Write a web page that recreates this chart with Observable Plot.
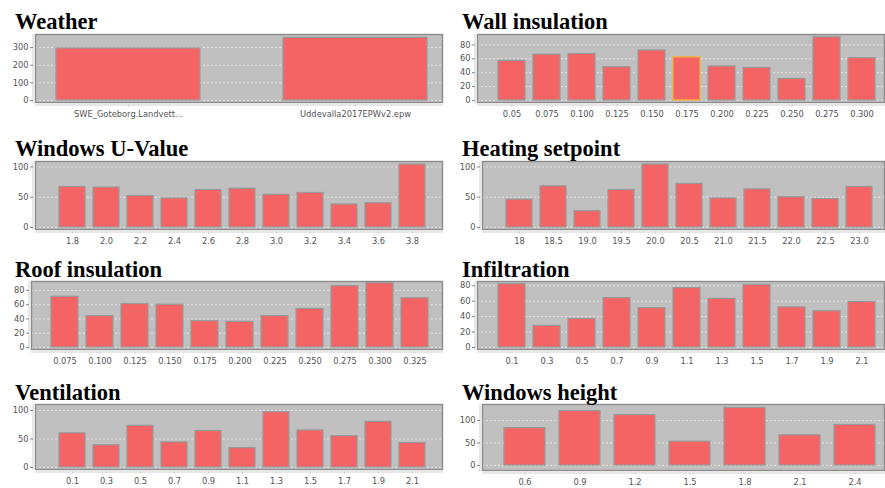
<!DOCTYPE html>
<html><head><meta charset="utf-8">
<script src="https://cdn.jsdelivr.net/npm/d3@7"></script>
<script src="https://cdn.jsdelivr.net/npm/@observablehq/plot@0.6"></script>
<style>
body{margin:0;background:#fff;}
#root{position:relative;width:885px;height:488px;overflow:hidden;background:#fff;}
.title{position:absolute;font-family:"Liberation Serif","Times New Roman",serif;font-weight:bold;font-size:22.5px;line-height:22.5px;color:#000;white-space:nowrap;}
.panel{position:absolute;}
</style></head><body><div id="root"></div>
<script>
// ---- data ----
const weatherCats = ["SWE_Goteborg.Landvett...", "Uddevalla2017EPWv2.epw"];
const weatherVals = [295, 355];
const weatherTicks = [0, 100, 200, 300];

const wallCats = ["0.05","0.075","0.100","0.125","0.150","0.175","0.200","0.225","0.250","0.275","0.300"];
const wallVals = [57, 66, 67, 48, 72, 62, 49, 47, 31, 91, 61];
const wallHighlight = ["0.175"];
const wallTicks = [0, 20, 40, 60, 80];

const winUCats = ["1.8","2.0","2.2","2.4","2.6","2.8","3.0","3.2","3.4","3.6","3.8"];
const winUVals = [67, 66, 52, 48, 62, 64, 54, 57, 38, 40, 104];
const winUTicks = [0, 50, 100];

const heatCats = ["18","18.5","19.0","19.5","20.0","20.5","21.0","21.5","22.0","22.5","23.0"];
const heatVals = [46, 68, 27, 62, 104, 72, 48, 63, 50, 47, 67];
const heatTicks = [0, 50, 100];

const roofCats = ["0.075","0.100","0.125","0.150","0.175","0.200","0.225","0.250","0.275","0.300","0.325"];
const roofVals = [71, 44, 61, 60, 37, 36, 44, 54, 86, 90, 69];
const roofTicks = [0, 20, 40, 60, 80];

const infilCats = ["0.1","0.3","0.5","0.7","0.9","1.1","1.3","1.5","1.7","1.9","2.1"];
const infilVals = [82, 28, 37, 64, 51, 77, 63, 81, 52, 47, 59];
const infilTicks = [0, 20, 40, 60, 80];

const ventCats = ["0.1","0.3","0.5","0.7","0.9","1.1","1.3","1.5","1.7","1.9","2.1"];
const ventVals = [60, 39, 73, 44, 64, 34, 97, 65, 55, 80, 43];
const ventTicks = [0, 50, 100];

const winHCats = ["0.6","0.9","1.2","1.5","1.8","2.1","2.4"];
const winHVals = [83, 121, 112, 53, 128, 67, 90];
const winHTicks = [0, 50, 100];

// ---- layout (positions/styles only) ----
const panels = [
  {title:"Weather", cats:weatherCats, vals:weatherVals, ticks:weatherTicks, hl:[], yMax:374,
   left:0, top:33, titleTop:10.6, titleLeft:15, ml:35, fh:68, inL:8.6, inR:2.6, pi:0.364, po:0.05, inB:2},
  {title:"Wall insulation", cats:wallCats, vals:wallVals, ticks:wallTicks, hl:wallHighlight, yMax:95,
   left:442, top:33, titleTop:10.6, titleLeft:20, ml:35, fh:68, inL:16, inR:4.6, pi:0.23, po:0.115, inB:2},
  {title:"Windows U-Value", cats:winUCats, vals:winUVals, ticks:winUTicks, hl:[], yMax:109,
   left:0, top:160, titleTop:137.6, titleLeft:15, ml:35, fh:68, inL:16, inR:9.7, pi:0.23, po:0.115, inB:2},
  {title:"Heating setpoint", cats:heatCats, vals:heatVals, ticks:heatTicks, hl:[], yMax:109,
   left:442, top:160, titleTop:137.6, titleLeft:20, ml:40, fh:68, inL:16.7, inR:4.7, pi:0.23, po:0.115, inB:2},
  {title:"Roof insulation", cats:roofCats, vals:roofVals, ticks:roofTicks, hl:[], yMax:92.5,
   left:0, top:280, titleTop:258.6, titleLeft:15, ml:31, fh:68, inL:15.5, inR:9.5, pi:0.24, po:0.12, inB:2},
  {title:"Infiltration", cats:infilCats, vals:infilVals, ticks:infilTicks, hl:[], yMax:85.5,
   left:442, top:280, titleTop:258.6, titleLeft:20, ml:35, fh:68, inL:16.5, inR:4.5, pi:0.24, po:0.12, inB:2},
  {title:"Ventilation", cats:ventCats, vals:ventVals, ticks:ventTicks, hl:[], yMax:110.5,
   left:0, top:403, titleTop:381.6, titleLeft:15, ml:35, fh:65, inL:16.3, inR:9.7, pi:0.23, po:0.115, inB:2},
  {title:"Windows height", cats:winHCats, vals:winHVals, ticks:winHTicks, hl:[], yMax:135.5,
   left:442, top:403, titleTop:381.6, titleLeft:20, ml:40, fh:66, inL:13.6, inR:1.6, pi:0.258, po:0.129, inB:5}
];

const root = document.getElementById("root");
for (const p of panels) {
  const data = p.cats.map((c, i) => ({cat: c, val: p.vals[i], hl: p.hl.includes(c)}));
  const mt = 1, mb = 20;
  const chart = Plot.plot({
    width: 443,
    height: mt + p.fh + mb,
    marginLeft: p.ml,
    marginRight: 1,
    marginTop: mt,
    marginBottom: mb,
    style: {fontFamily: "'DejaVu Sans', sans-serif", fontSize: "8.3px", color: "#555", background: "transparent", overflow: "visible"},
    x: {domain: p.cats, type: "band", paddingInner: p.pi, paddingOuter: p.po, insetLeft: p.inL, insetRight: p.inR, label: null},
    y: {domain: [0, p.yMax], insetBottom: p.inB, label: null},
    color: {type: "identity"},
    marks: [
      Plot.frame({fill: "#c0c0c0", stroke: "none"}),
      Plot.gridY(p.ticks, {stroke: "#ffffff", strokeOpacity: 0.7, strokeDasharray: "2,2", strokeWidth: 0.8}),
      Plot.barY(data, {x: "cat", y: "val", fill: "#f46464",
        stroke: d => d.hl ? "#f3b230" : "#999999", strokeWidth: 1.2}),
      Plot.frame({stroke: "#8c8c8c", strokeWidth: 1.4}),
      Plot.frame({anchor: "bottom", dy: 2.5, stroke: "#cfcfcf"}),
      Plot.frame({anchor: "left", dx: -2.5, stroke: "#cfcfcf"}),
      Plot.axisY(p.ticks, {tickSize: 3, tickPadding: 2, dx: -2, stroke: "#888", fill: "#555"}),
      Plot.axisX({tickSize: 2, tickPadding: 4, dy: 2.5, stroke: "#ccc", fill: "#555"})
    ]
  });
  chart.classList.add("panel");
  chart.style.left = p.left + "px";
  chart.style.top = p.top + "px";
  root.appendChild(chart);
  const t = document.createElement("div");
  t.className = "title";
  t.textContent = p.title;
  t.style.left = (p.left + p.titleLeft) + "px";
  t.style.top = p.titleTop + "px";
  root.appendChild(t);
}
</script>
</body></html>
